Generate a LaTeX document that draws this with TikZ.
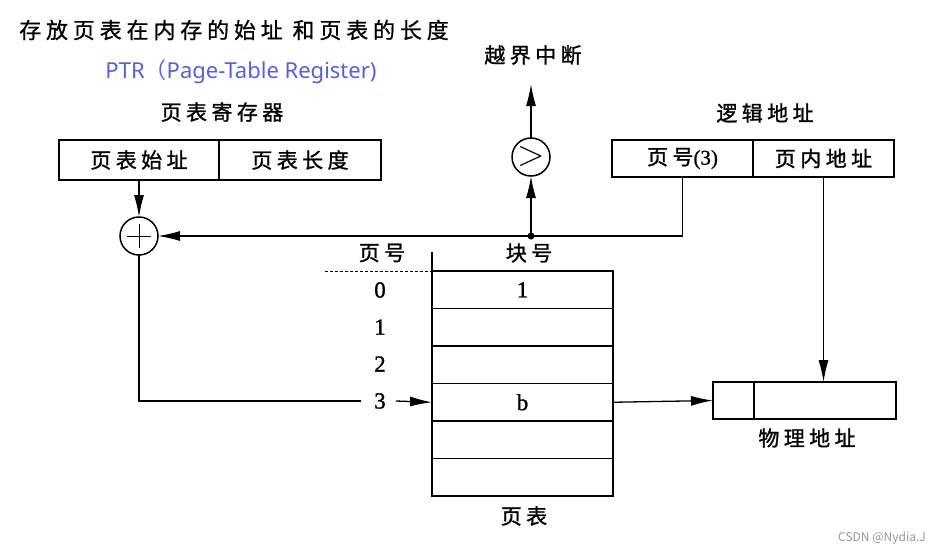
\documentclass[tikz,border=0pt]{standalone}
\usepackage{fontspec}
\usetikzlibrary{arrows.meta}
\newfontfamily\cjk[LetterSpace=21,FakeBold=1.2]{Noto Sans CJK SC}
\newfontfamily\cjktitle[LetterSpace=22,FakeBold=0.8]{Noto Sans CJK SC}
\newfontfamily\cjkplain{Noto Sans CJK SC}
\newfontfamily\latinsans{Noto Sans}
\newfontfamily\numfont[FakeBold=1.2]{Liberation Serif}
\definecolor{ptrblue}{RGB}{88,96,214}
\definecolor{wm}{RGB}{150,150,150}
\begin{document}
\begin{tikzpicture}[x=1pt,y=-1pt,
  every node/.style={inner sep=0pt,outer sep=0pt},
  zh/.style={font=\fontsize{21}{23}\selectfont\cjk},
  num/.style={font=\fontsize{23}{25}\selectfont\numfont},
  cell/.style={draw,line width=1.7pt,minimum height=37pt},
  row/.style={draw,line width=1.7pt,minimum width=181pt,minimum height=37.5pt,font=\fontsize{23}{25}\selectfont\numfont},
  ring/.style={draw,circle,line width=1.5pt,minimum size=38pt},
  arr/.style={line width=1.3pt,-{Latex[length=22pt,width=10pt]}},
  ln/.style={line width=1.3pt}]
\useasboundingbox (0,0) rectangle (941,555);
% texts
\node[font=\fontsize{22}{24}\selectfont\cjktitle] (title) at (234,30) {存放页表在内存的始址 和页表的长度};
\node[font=\fontsize{22}{24}\selectfont\latinsans,text=ptrblue] (ptr) at (241,72) {PTR{\cjkplain（}Page-Table Register)};
\node[zh] (reglbl) at (222,112) {页表寄存器};
\node[zh] (intr) at (533,55) {越界中断};
\node[zh] (lalbl) at (765,113) {逻辑地址};
\node[zh] (pnlbl) at (382,253) {页号};
\node[zh] (bnlbl) at (529,253) {块号};
\node[zh] (ptlbl) at (524,516) {页表};
\node[zh] (palbl) at (807,438) {物理地址};
\node[font=\fontsize{12}{14}\selectfont\cjkplain,text=wm] (wmk) at (882,538) {CSDN @Nydia.J};
% PTR register
\node[cell,minimum width=160pt,minimum height=40pt,zh] (ptrA) at (139,160) {页表始址};
\node[cell,minimum width=162pt,minimum height=40pt,zh] (ptrB) at (300,160) {页表长度};
% logical address
\node[cell,minimum width=141pt,font=\fontsize{21}{23}\selectfont] (la) at (682.5,158.5) {{\cjk 页号}{\numfont(3)}};
\node[cell,minimum width=141pt,zh] (lb) at (823.5,158.5) {页内地址};
% physical address
\node[cell,minimum width=41pt] (pa) at (733.5,400.5) {};
\node[cell,minimum width=142pt] (pb) at (825,400.5) {};
% page table rows
\node[row] (r0) at (522.5,289.75) {1};
\node[row] (r1) at (522.5,327.25) {};
\node[row] (r2) at (522.5,364.75) {};
\node[row] (r3) at (522.5,402.25) {b};
\node[row] (r4) at (522.5,439.75) {};
\node[row] (r5) at (522.5,477.25) {};
% page numbers
\node[num] (n0) at (380,290) {0};
\node[num] (n1) at (380,327) {1};
\node[num] (n2) at (380,364) {2};
\node[num] (n3) at (380,401) {3};
% circles
\node[ring,path picture={\draw[line width=1pt] ([xshift=-12pt]path picture bounding box.center) -- ([xshift=12pt]path picture bounding box.center);
  \draw[line width=1pt] ([yshift=-12pt]path picture bounding box.center) -- ([yshift=12pt]path picture bounding box.center);}] (plus) at (139,236) {};
\node[ring,font=\fontsize{36}{36}\selectfont\rmfamily] (cmp) at (531,157) {\raisebox{1pt}{>}};
\fill (531,236) circle (3.5pt) coordinate (dot);
\coordinate (intrtip) at (531,84);
% connectors
\draw[arr] (ptrA.south) -- (plus.north);
\draw[arr] (la.south) |- (dot) -- (plus.east);
\draw[arr] (dot) -- (cmp.south);
\draw[arr] (cmp.north) -- (intrtip);
\draw[ln] (plus.south) |- ([xshift=-13pt]n3.west);
\draw[arr] ([xshift=10pt]n3.east) -- (r3.west);
\draw[arr] (r3.east) -- (pa.west);
\draw[arr] (lb.south) -- (lb.south |- pb.north);
\draw[line width=0.9pt,dash pattern=on 3pt off 2pt] (325,271) -- (r0.north west);
\draw[line width=1.3pt] (r0.north west) -- ++(0,-19);
\end{tikzpicture}
\end{document}
